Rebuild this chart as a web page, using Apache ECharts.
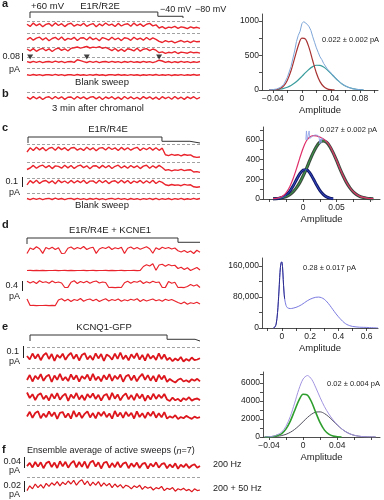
<!DOCTYPE html>
<html><head><meta charset="utf-8">
<script src="https://cdn.jsdelivr.net/npm/echarts@6/dist/echarts.min.js"></script>
<style>html,body{margin:0;padding:0;background:#fff}#c{width:384px;height:500px}</style>
</head><body><div id="c"></div>
<script>
// ---------- single-channel sweeps (current in fA, one value per sample) ----------
const a1 = [8,-14,19,-7,12,-18,6,15,-11,21,-5,13,-16,9,17,-12,7,-6,18,-13,4,14,-17,11,-8,20,-3,9,-15,16,-10,6,13,-12,19,-7,11,-14,8,16,-9,2,-30,-16,-36,-21,-27,-14,-33,-19,-25,-37,-18,-30,-23,-34];
const a2 = [-6,15,-12,9,18,-9,13,-17,5,16,-8,20,-13,7,-4,17,-15,10,12,-10,19,-6,8,-18,14,3,-11,18,-7,10,-16,12,6,-13,17,-5,9,-12,15,-8,11,-3,-24,-35,-17,-29,-21,-38,-26,-15,-31,-22,-36,-19,-28,-25];
const a3 = [10,-9,14,-13,6,17,-7,11,-15,8,19,-4,12,-10,16,22,30,18,27,35,20,29,24,33,17,26,12,-6,15,-11,9,-14,13,5,-9,17,-12,8,14,-7,10,-2,-27,-18,-34,-23,-29,-16,-35,-21,-26,-32,-19,-28,-24,-31];
const a4 = [4,-5,7,-3,6,-6,2,5,-4,8,-2,6,-7,3,5,-4,22,14,4,-5,6,-3,7,-6,2,5,-4,6,-2,4,-6,5,-3,7,-4,3,-5,6,-2,4,-6,3,18,10,-4,5,-7,3,-5,6,-3,4,-6,2,-4,5];
const a5 = [3,-4,5,-2,4,-5,2,3,-3,6,-2,4,-5,2,3,-4,5,-3,2,-4,4,-2,5,-3,3,-5,2,4,-3,5,-2,3,-4,4,-3,2,-5,3,-2,4,-3,5,-4,2,-3,4,-5,3,-2,4,-4,2,-3,5,-2,3];
const arrowsA = [1, 19, 42];
const arrowsAVal = [50, 50, 50];
const b1 = [9,-12,14,-8,11,-15,6,13,-10,15,-7,12,-14,8,10,-13,15,-6,11,-11,7,14,-9,12,-15,10,-5,13,-12,9,-14,15,-8,11,-10,6,-13,14,-7,12,-11,9,-15,13,-6,10,-12,15,-9,8,-14,11,-7,13,-10,6];
const c1 = [-30,12,-15,18,-9,14,-17,8,16,-12,19,-6,13,-16,10,15,-11,7,-14,17,-8,12,-18,9,14,-10,18,-5,11,-15,16,-9,13,-12,7,17,-14,10,-7,15,-11,12,-13,8,-58,-66,-54,-63,-57,-68,-55,-62,-59,-78,-84,-80];
const c2 = [-25,-10,16,-13,9,18,-7,14,-16,11,6,-12,17,-9,15,-14,8,19,-6,12,-17,10,13,-11,16,-8,14,-15,7,18,-10,11,-13,15,-6,12,-16,9,17,-12,13,-9,16,-5,-32,-26,-38,-29,-34,-24,-36,-30,-27,-50,-46,-54];
const c3 = [-28,14,-11,17,-14,8,15,-9,12,-17,19,-6,10,-13,16,-10,13,-7,18,-15,9,11,-12,17,-8,14,-16,6,13,-11,18,-9,15,-14,10,-6,16,-12,12,-10,17,-15,8,-4,-27,-35,-25,-33,-29,-37,-24,-31,-28,-48,-53,-47];
const c4 = [5,-6,7,-4,6,-7,3,6,-5,8,-3,5,-7,4,6,-5,7,-4,3,-6,5,-3,7,-5,4,-7,3,6,-4,7,-3,4,-6,5,-4,3,-7,4,-3,6,-5,7,-6,3,-4,5,-7,4,-3,6,-5,3,-4,7,-3,5];
const d1 = [-100,120,60,170,90,-95,140,80,150,60,130,-100,-90,110,160,70,140,90,180,60,120,150,-95,80,140,100,170,60,130,90,150,-100,110,160,80,140,70,120,170,90,-90,130,60,150,100,140,80,120,10,-40,20,-60,0,-100,30,-50];
const d2 = [-100,-95,-105,-98,-102,-96,-104,-99,-101,-97,-103,-100,-96,-104,-98,-102,-99,-101,-95,-105,-100,-97,-103,-99,-101,-96,-104,-98,-102,-100,-97,-103,-99,-101,-96,-104,-98,60,130,80,170,-90,120,150,70,140,90,110,-20,30,-60,10,-100,-40,20,-80];
const d3 = [150,80,140,60,170,100,130,70,160,90,120,80,-100,-95,110,170,60,140,90,150,70,130,160,80,120,100,-100,-98,-103,-97,-101,90,150,70,140,110,170,60,130,80,150,100,120,-100,-96,140,70,110,-100,-98,-102,-60,20,-40,10,-100];
const d4 = [160,-100,-97,-103,-99,-101,-96,-104,-98,-102,120,170,80,150,60,140,100,180,70,130,160,90,150,60,120,170,80,140,100,160,70,130,90,150,110,170,60,140,80,120,160,90,130,70,150,100,140,80,20,-30,40,-50,10,-20,30,-40];
const e1 = [10,-25,35,-15,28,-32,18,40,-20,30,-38,22,-10,33,-28,15,42,-18,26,-35,20,38,-24,12,-30,36,-14,29,-40,24,8,-27,34,-19,45,-22,16,-33,27,-12,39,-26,21,-36,31,-17,13,-29,37,-21,25,-30,-8,-42,-15,-35,0,-45,-20,-38,-5,-32,-25,-12];
const e2 = [-20,30,-35,22,-12,38,-28,16,33,-40,25,-18,41,-24,10,-31,36,-15,27,-37,19,-9,34,-26,42,-21,14,-33,28,-16,39,-29,23,-11,35,-38,17,31,-23,26,-34,12,40,-19,29,-27,21,-36,32,-14,24,-38,-10,-30,-45,-18,-5,-35,-22,-40,-12,-28,-8,-33];
const e3 = [45,-10,28,-30,20,36,-22,14,-35,31,-16,38,-27,11,33,-39,24,-13,40,-25,18,-32,29,-8,35,-20,22,-37,15,30,-28,41,-17,26,-34,12,37,-23,19,-31,34,-14,27,-38,16,-26,32,-19,23,-11,30,-25,-40,-6,-33,-18,-44,-12,-29,-2,-36,-21,-15,-31];
const e4 = [-15,32,-28,20,38,-33,14,-22,35,-12,27,-39,21,30,-26,16,-36,41,-18,25,-30,12,37,-24,19,-34,28,-9,33,-21,15,-37,40,-16,24,-29,31,-13,22,-35,36,-20,17,-31,26,-10,34,-27,18,-23,29,-36,-14,-28,-2,-41,-20,-33,-9,-25,-39,-16,-30,-22];
const f1 = [-4,8,-9,11,-6,10,-12,7,13,-8,9,-11,14,-5,12,-10,6,15,-9,11,-7,13,-12,9,16,-6,10,-13,8,12,-10,7,-8,11,-9,5,10,-12,6,-7,9,-11,4,8,-13,5,-6,10,-10,3,7,-12,2,-9,6,-14,1,-8,4,-11,-2,3,-10,-4];
const f2 = [-6,2,-3,5,-1,4,-2,6,1,7,3,9,2,8,4,10,5,11,3,9,12,4,10,2,8,3,9,1,7,2,6,-1,5,0,4,-2,3,1,-3,2,-1,3,-4,1,-2,0,-5,-1,-3,1,-6,-2,-4,-1,-7,-3,-5,-2,-6,-4,-8,-3,-6,-5];
// reference (zero) levels, fA
const dashA = [40, 60, 30, 50, 70];
const dashB = [60];
const dashC = [50, 50, 40, 60];
const dashE = [100, 100, 100, 100];
const dashF = [16];
// voltage protocols (time in sample units, mV)
const protoA_t = [0.95, 0.95, 41.6, 41.6, 49.6, 49.6];
const protoA_v = [-80, 60, 60, -40, -40, -80];
const protoC_t = [0.32, 0.32, 42.9, 42.9, 51.8, 51.8, 55];
const protoC_v = [-80, 60, 60, -40, -40, -80, -80];
const protoD_t = [0, 0, 48, 48, 55];
const protoD_v = [-80, 60, 60, -40, -40];
const protoE_t = [1.1, 1.1, 51, 51, 61.2, 61.2, 63];
const protoE_v = [-80, 60, 60, -40, -40, -80, -80];

// ---------- amplitude histograms ----------
const histA_x = [-0.045,-0.04,-0.035,-0.03,-0.025,-0.02,-0.015,-0.01,-0.005,0,0.005,0.01,0.015,0.02,0.025,0.03,0.035,0.04,0.045,0.05,0.055,0.06,0.065,0.07,0.075,0.08,0.085];
const histA_closed = [1,2,7,22,60,142,279,461,641,750,737,609,423,247,121,50,17,5,1,null,null,null,null,null,null,null,null];
const histA_open = [2,3,6,12,23,40,65,100,145,197,251,301,338,358,356,332,291,240,186,135,92,59,36,20,11,5,2];
const histA_totX = [-0.045,-0.04,-0.035,-0.03,-0.025,-0.02,-0.015,-0.01,-0.0075,-0.005,-0.0025,0,0.0025,0.005,0.0075,0.01,0.0125,0.015,0.0175,0.02,0.0225,0.025,0.0275,0.03,0.035,0.04,0.045,0.05,0.055,0.06,0.065,0.07,0.075,0.08,0.085];
const histA_total = [3,6,14,36,80,185,340,565,700,790,850,960,990,1000,950,915,860,770,690,610,545,480,440,385,305,250,185,138,90,60,35,20,10,5,2];

const histC_x = [-0.045,-0.04,-0.035,-0.03,-0.025,-0.02,-0.015,-0.01,-0.005,0,0.005,0.01,0.015,0.02,0.025,0.03,0.035,0.04,0.045,0.05,0.055,0.06,0.065,0.07,0.075,0.08,0.085,0.09,0.095,0.1,0.105];
const histC_closed = [1,3,8,19,41,78,131,195,255,293,297,265,208,144,87,47,22,9,3,null,null,null,null,null,null,null,null,null,null,null,null];
const histC_open = [2,4,8,15,26,45,73,113,166,233,309,391,468,532,575,590,575,532,468,391,309,233,166,113,73,45,26,15,8,4,2];
const histC_total = [3,7,15,32,68,125,205,305,415,515,590,628,642,640,628,610,582,538,470,392,310,234,167,114,74,46,27,16,9,5,3];
const histC_rawX = [0.004,0.005,0.006,0.008,0.009,0.01,0.012,0.015,0.018,0.02,0.022,0.024,0.025,0.026,0.027,0.028,0.03];
const histC_raw = [600,690,600,610,690,615,625,640,650,635,645,620,560,610,570,620,600];

const histD_x = [-0.06,-0.05,-0.04,-0.03,-0.02,-0.015,-0.01,-0.005,0,0.005,0.01,0.015,0.02,0.03,0.04,0.06,0.08,0.1,0.12,0.14,0.16,0.18,0.2,0.22,0.24,0.26,0.28,0.3,0.32,0.34,0.36,0.38,0.4,0.42,0.44,0.46,0.48,0.5,0.55,0.6,0.62,0.65,0.68];
const histD_y = [0,2000,10000,40000,95000,130000,155000,168000,170000,158000,125000,95000,75000,58000,52000,50000,51000,53000,56000,60000,65000,70000,74000,77000,79000,79500,78000,74000,67000,58000,48000,38000,29000,21000,14000,9000,6000,4000,2000,1500,1000,500,0];

const histE_x = [-0.045,-0.04,-0.035,-0.03,-0.025,-0.02,-0.015,-0.01,-0.005,0,0.005,0.01,0.015,0.02,0.025,0.03,0.035,0.04,0.045,0.05,0.055,0.06,0.065,0.07,0.075,0.08,0.085];
const histE_closed = [4,14,55,180,380,900,1760,2910,4050,4730,4650,3850,2670,1560,760,320,110,32,8,null,null,null,null,null,null,null,null];
const histE_open = [7,16,37,80,162,302,521,835,1238,1698,2157,2537,2761,2783,2596,2243,1793,1327,910,577,339,184,92,43,19,8,3];
const histE_total = [11,30,92,260,542,1202,2281,3745,5288,6428,6807,6387,5431,4343,3356,2563,1903,1359,918,577,339,184,92,43,19,8,3];

// ---------- tick labels ----------
const histA_xLabels = [-0.04, 0, 0.04, 0.08];
const histA_yLabels = [0, 500, 1000];
const histC_xLabels = [0, 0.05];
const histC_yLabels = [0, 200, 400, 600];
const histD_xLabels = [0, 0.2, 0.4, 0.6];
const histD_yLabels = [0, 80000, 160000];
const histE_xLabels = [-0.04, 0, 0.04];
const histE_yLabels = [0, 2000, 4000, 6000];

// ================= build =================
const FONT = '"Liberation Sans", Arial, Helvetica, sans-serif';
const TXT = '#1c1c1c';
const RED = '#ea242c';
const DRED = '#dc161c';
const grids = [], xAxes = [], yAxes = [], series = [], graphics = [];

function addGrid(g, xa, ya) {
  const i = grids.length;
  grids.push(Object.assign({show: false, containLabel: false}, g));
  xAxes.push(Object.assign({gridIndex: i, type: 'value'}, xa));
  yAxes.push(Object.assign({gridIndex: i, type: 'value'}, ya));
  return i;
}
function pairs(xs, ys) {
  const out = [];
  ys.forEach((v, k) => { if (v !== null) out.push([xs[k], v]); });
  return out;
}
function addTrace(arr, cy, pxPerUnit, h, color, dash, width) {
  const half = h / 2 / pxPerUnit;
  const i = addGrid({left: 27, width: 173, top: cy - h / 2, height: h},
    {min: 0, max: arr.length - 1, show: false},
    {min: -half, max: half, show: false});
  const s = {type: 'line', xAxisIndex: i, yAxisIndex: i, data: arr.map((v, k) => [k, v]),
    symbol: 'none', silent: true, clip: false, z: 3,
    lineStyle: {color: color, width: width || 1}};
  if (dash !== undefined && dash !== null) {
    s.markLine = {silent: true, symbol: 'none', label: {show: false}, z: 2,
      lineStyle: {color: '#8a8a8a', type: [3, 2], width: 0.8}, data: [{yAxis: dash}]};
  }
  series.push(s);
  return i;
}
function addProto(ts, vs, top, n) {
  const i = addGrid({left: 27, width: 173, top: top, height: 6},
    {min: 0, max: n, show: false}, {min: -80, max: 60, show: false});
  series.push({type: 'line', xAxisIndex: i, yAxisIndex: i, data: pairs(ts, vs), symbol: 'none',
    silent: true, clip: false, lineStyle: {color: '#333', width: 1}});
}
const fmtNum = v => (v < 0 ? '\u2212' : '') + String(Math.abs(v));
function addHist(g, xr, yr, xLabels, xTicks, yLabels, yTicks, yFmt) {
  const line = {show: true, onZero: false, lineStyle: {color: '#222', width: 0.8}};
  const tick = {show: true, length: 3, lineStyle: {color: '#222', width: 0.8}};
  const lab = {fontSize: 8.5, color: TXT, fontFamily: FONT};
  return addGrid(g,
    {min: xr[0], max: xr[1], axisLine: line, splitLine: {show: false},
     axisTick: Object.assign({customValues: xTicks}, tick),
     axisLabel: Object.assign({customValues: xLabels, margin: 4, formatter: fmtNum}, lab),
     name: 'Amplitude', nameLocation: 'middle', nameGap: 15,
     nameTextStyle: {fontSize: 9.5, color: TXT, fontFamily: FONT}},
    {min: yr[0], max: yr[1], axisLine: line, splitLine: {show: false},
     axisTick: Object.assign({customValues: yTicks}, tick),
     axisLabel: Object.assign({customValues: yLabels, margin: 3, formatter: yFmt || fmtNum}, lab)});
}
function hline(i, xs, ys, color, width, smooth, z) {
  series.push({type: 'line', xAxisIndex: i, yAxisIndex: i, data: pairs(xs, ys), symbol: 'none',
    silent: true, smooth: smooth ? 0.3 : false, z: z || 3, lineStyle: {color: color, width: width}});
}
function txt(text, x, y, size, o) {
  o = o || {};
  const st = {text: text, x: x, y: y, font: (o.bold ? 'bold ' : '') + (o.italic ? 'italic ' : '') + size + 'px ' + FONT,
    fill: o.color || TXT, align: o.align || 'left', verticalAlign: 'middle',
    textAlign: o.align || 'left', textVerticalAlign: 'middle'};
  if (o.rich) st.rich = o.rich;
  graphics.push({type: 'text', silent: true, style: st});
}
function vbar(x, y1, y2) {
  graphics.push({type: 'line', silent: true, shape: {x1: x, y1: y1, x2: x, y2: y2}, style: {stroke: '#222', lineWidth: 1}});
}

// ---- panel a ----
addProto(protoA_t, protoA_v, 12, 55);
[a1, a2, a3, a4, a5].forEach((arr, k) => addTrace(arr, [25, 39, 50, 62, 75][k], 0.1, 20, RED, dashA[k], 1.4));
const ga4 = grids.length - 2;
series.push({type: 'scatter', xAxisIndex: ga4, yAxisIndex: ga4, data: pairs(arrowsA, arrowsAVal),
  symbol: 'triangle', symbolRotate: 180, symbolSize: [6, 5], itemStyle: {color: '#111'}, silent: true, z: 5});
// ---- panel b ----
addTrace(b1, 98, 0.1, 20, RED, dashB[0], 1.4);
// ---- panel c ----
addProto(protoC_t, protoC_v, 137, 55);
[c1, c2, c3, c4].forEach((arr, k) => addTrace(arr, [149, 167, 182, 199][k], 0.1, 20, RED, dashC[k], 1.4));
// ---- panel d ----
addProto(protoD_t, protoD_v, 238, 55);
[d1, d2, d3, d4].forEach((arr, k) => addTrace(arr, [251, 268, 285, 303][k], 0.025, 20, RED, null, 1.2));
// ---- panel e ----
addProto(protoE_t, protoE_v, 335, 63);
[e1, e2, e3, e4].forEach((arr, k) => addTrace(arr, [357, 378, 397, 415][k], 0.1, 26, DRED, dashE[k], 1.8));
// ---- panel f ----
addTrace(f1, 465, 0.27, 24, DRED, null, 1.8);
addTrace(f2, 487, 0.6, 24, DRED, dashF[0], 1.2);

// ---- histograms ----
const hA = addHist({left: 262, top: 14, width: 116, height: 76}, [-0.055, 0.105], [0, 1100],
  histA_xLabels, [-0.04, -0.02, 0, 0.02, 0.04, 0.06, 0.08, 0.1], histA_yLabels, [0, 250, 500, 750, 1000]);
hline(hA, histA_x, histA_open, '#3a9c9c', 1.2, true);
hline(hA, histA_x, histA_closed, '#a83232', 1.2, true);
hline(hA, histA_totX, histA_total, '#7fa6d8', 1, false, 4);

const hC = addHist({left: 263, top: 127, width: 117, height: 72}, [-0.06, 0.115], [0, 730],
  histC_xLabels, [-0.05, -0.025, 0, 0.025, 0.05, 0.075, 0.1], histC_yLabels, [0, 100, 200, 300, 400, 500, 600, 700]);
hline(hC, histC_x, histC_open, '#3c4a40', 3.2, true, 2);
hline(hC, histC_x, histC_open, '#3aa848', 1, true, 3);
hline(hC, histC_x, histC_closed, '#141c68', 3, true, 2);
hline(hC, histC_x, histC_closed, '#3448c8', 1, true, 3);
hline(hC, histC_x, histC_total, '#e0306a', 1.2, true, 4);
hline(hC, histC_rawX, histC_raw, '#8c9ee6', 0.8, false, 5);

const hD = addHist({left: 262, top: 258, width: 116, height: 70}, [-0.14, 0.68], [0, 180000],
  histD_xLabels, [-0.1, 0, 0.1, 0.2, 0.3, 0.4, 0.5, 0.6], histD_yLabels, [0, 40000, 80000, 120000, 160000],
  v => v.toLocaleString('en-US'));
hline(hD, histD_x, histD_y, '#7a7ae0', 1, true, 3);
hline(hD, histD_x.slice(0, 13), histD_y.slice(0, 13), '#2c2c8c', 1, true, 4);

const hE = addHist({left: 263, top: 372, width: 117, height: 65}, [-0.047, 0.09], [0, 7200],
  histE_xLabels, [-0.04, -0.02, 0, 0.02, 0.04, 0.06, 0.08], histE_yLabels, [0, 1000, 2000, 3000, 4000, 5000, 6000, 7000]);
hline(hE, histE_x, histE_open, '#50505e', 1, true);
hline(hE, histE_x, histE_closed, '#2e9e2e', 1.6, true);
hline(hE, histE_x, histE_total, '#a294e0', 1, true, 4);

// ---- texts ----
txt('a', 2, 4, 11, {bold: true});
txt('+60 mV', 31, 6, 9.5);
txt('E1R/R2E', 100, 6, 9.5, {align: 'center'});
txt('\u221240 mV', 160, 10, 9);
txt('\u221280 mV', 195, 10, 9);
txt('0.08', 20, 57, 9, {align: 'right'}); vbar(22.5, 53, 61);
txt('pA', 20, 70, 9, {align: 'right'});
txt('Blank sweep', 102, 82, 9.5, {align: 'center'});
txt('b', 2, 94, 11, {bold: true});
txt('3 min after chromanol', 98, 108, 9.5, {align: 'center'});
txt('c', 2, 128, 11, {bold: true});
txt('E1R/R4E', 108, 129, 9.5, {align: 'center'});
txt('0.1', 18, 182, 9, {align: 'right'}); vbar(22.5, 177, 187);
txt('pA', 20, 193, 9, {align: 'right'});
txt('Blank sweep', 102, 205, 9.5, {align: 'center'});
txt('d', 2, 225, 11, {bold: true});
txt('E1R/R4E + KCNE1', 110, 230, 9.5, {align: 'center'});
txt('0.4', 18, 286, 9, {align: 'right'}); vbar(22.5, 281, 291);
txt('pA', 20, 297, 9, {align: 'right'});
txt('e', 2, 327, 11, {bold: true});
txt('KCNQ1-GFP', 104, 327, 9.5, {align: 'center'});
txt('0.1', 19, 352, 9, {align: 'right'}); vbar(23.5, 346, 358);
txt('pA', 20, 362, 9, {align: 'right'});
txt('f', 2, 450, 11, {bold: true});
txt('{r|Ensemble average of active sweeps (}{i|n}{r|=7)}', 27, 451, 9, {
  rich: {r: {font: '9px ' + FONT, fill: TXT}, i: {font: 'italic 9px ' + FONT, fill: TXT}}});
txt('0.04', 21, 462, 9, {align: 'right'}); vbar(24.5, 457, 468);
txt('pA', 20, 471, 9, {align: 'right'});
txt('0.02', 21, 486, 9, {align: 'right'}); vbar(24.5, 481, 492);
txt('pA', 20, 495, 9, {align: 'right'});
txt('200 Hz', 213, 465, 9);
txt('200 + 50 Hz', 213, 489, 9);
txt('0.022 \u00b1 0.002 pA', 322, 40, 7.5);
txt('0.027 \u00b1 0.002 pA', 320, 130, 7.5);
txt('0.28 \u00b1 0.017 pA', 303, 268, 7.5);
txt('0.02 \u00b1 0.004 pA', 327, 384, 7.5);

const chart = echarts.init(document.getElementById('c'), null, {renderer: 'canvas'});
chart.setOption({animation: false, grid: grids, xAxis: xAxes, yAxis: yAxes, series: series, graphic: graphics});
</script></body></html>
